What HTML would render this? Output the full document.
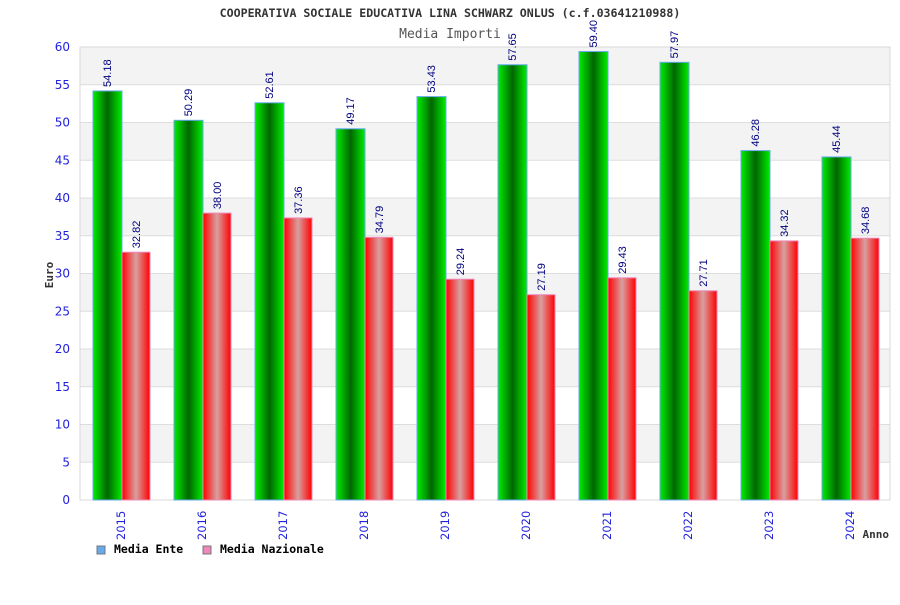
<!DOCTYPE html>
<html><head><meta charset="utf-8"><style>
body{margin:0;background:#fff;}
.mono{font-family:"DejaVu Sans Mono","Liberation Mono",monospace;}
.sans{font-family:"DejaVu Sans","Liberation Sans",sans-serif;}
.lib{font-family:"Liberation Sans",sans-serif;}
</style></head><body>
<svg width="900" height="600" xmlns="http://www.w3.org/2000/svg">
<defs>
<linearGradient id="gg" x1="0" x2="1" y1="0" y2="0"><stop offset="0" stop-color="#00ee00"/><stop offset="0.5" stop-color="#006600"/><stop offset="1" stop-color="#00ee00"/></linearGradient>
<linearGradient id="gr" x1="0" x2="1" y1="0" y2="0"><stop offset="0" stop-color="#ff0000"/><stop offset="0.5" stop-color="#d8a0a0"/><stop offset="1" stop-color="#ff0000"/></linearGradient>
</defs>
<text class="mono" x="450" y="17" text-anchor="middle" font-size="11.6" font-weight="bold" fill="#333">COOPERATIVA SOCIALE EDUCATIVA LINA SCHWARZ ONLUS (c.f.03641210988)</text>
<text class="mono" x="450" y="38" text-anchor="middle" font-size="13" fill="#555">Media Importi</text>
<g id="grid"></g>
<g id="bars"></g>
<g id="labels"></g>
<text class="mono" transform="translate(53,275) rotate(-90)" text-anchor="middle" font-size="11" font-weight="bold" fill="#333">Euro</text>
<text class="mono" x="889" y="538" text-anchor="end" font-size="11" font-weight="bold" fill="#333">Anno</text>
<g>
<rect x="97" y="546" width="8" height="8" fill="#66aaee" stroke="#777"/>
<text class="mono" x="114" y="553" font-size="11.5" font-weight="bold" fill="#000">Media Ente</text>
<rect x="203" y="546" width="8" height="8" fill="#ee88bb" stroke="#777"/>
<text class="mono" x="220" y="553" font-size="11.5" font-weight="bold" fill="#000">Media Nazionale</text>
</g>
</svg>
<script>
const years=["2015","2016","2017","2018","2019","2020","2021","2022","2023","2024"];
const ente=[54.18,50.29,52.61,49.17,53.43,57.65,59.40,57.97,46.28,45.44];
const nazionale=[32.82,38.00,37.36,34.79,29.24,27.19,29.43,27.71,34.32,34.68];
const yTicks=[0,5,10,15,20,25,30,35,40,45,50,55,60];
const NS="http://www.w3.org/2000/svg";
const L=80,R=890,T=47,B=500,YMAX=60;
const y=v=>B-(v/YMAX)*(B-T);
const gw=(R-L)/years.length;
const x=i=>L+i*gw;
function mk(tag,attrs,parent){const e=document.createElementNS(NS,tag);for(const k in attrs)e.setAttribute(k,attrs[k]);parent.appendChild(e);return e;}
const grid=document.getElementById('grid'),bars=document.getElementById('bars'),labels=document.getElementById('labels');
for(let i=0;i<yTicks.length-1;i++){
  const a=yTicks[i],b=yTicks[i+1];
  const r=mk('rect',{x:L,y:y(b),width:R-L,height:y(a)-y(b),fill:(i%2===1)?'#f3f3f3':'#ffffff'},grid);
  
  
}
yTicks.forEach(t=>{
  const ln=mk('line',{x1:L,x2:R,y1:y(t),y2:y(t),stroke:'#dddddd'},grid);
  
  
  const tx=mk('text',{class:'sans',x:70,y:y(t)+4,'text-anchor':'end','font-size':12,fill:'#2222dd'},grid);
  tx.textContent=t;
  
  
});
mk('rect',{x:L,y:T,width:R-L,height:B-T,fill:'none',stroke:'#d8d8d8'},grid);
years.forEach((yr,i)=>{
  const gx=x(i)+13;
  const b1=mk('rect',{x:gx,y:y(ente[i]),width:29,height:B-y(ente[i]),fill:'url(#gg)',stroke:'#66aaee','stroke-width':1},bars);
  
  
  const b2=mk('rect',{x:gx+29,y:y(nazionale[i]),width:28,height:B-y(nazionale[i]),fill:'url(#gr)',stroke:'#ee88bb','stroke-width':1},bars);
  
  
  const l1=mk('text',{class:'lib',transform:`translate(${gx+18},${y(ente[i])-4}) rotate(-90)`,'font-size':11,fill:'#000080'},labels);
  l1.textContent=ente[i].toFixed(2);
  
  
  const l2=mk('text',{class:'lib',transform:`translate(${gx+47},${y(nazionale[i])-4}) rotate(-90)`,'font-size':11,fill:'#000080'},labels);
  l2.textContent=nazionale[i].toFixed(2);
  
  
  const xt=mk('text',{class:'sans',transform:`translate(${gx+32},${540}) rotate(-90)`,'font-size':11.5,fill:'#2222dd'},labels);
  xt.textContent=yr;
  
  
});
</script>
</body></html>
